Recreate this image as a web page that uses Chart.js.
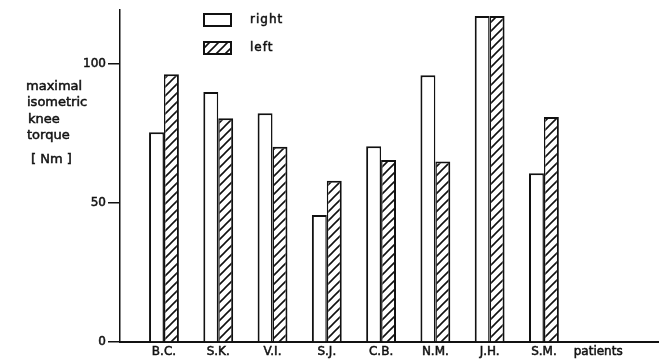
<!DOCTYPE html>
<html>
<head>
<meta charset="utf-8">
<script src="https://cdn.jsdelivr.net/npm/chart.js@4.4.1/dist/chart.umd.min.js"></script>
<style>
  html, body { margin: 0; padding: 0; background: #fff; }
  #wrap { width: 659px; height: 364px; }
</style>
</head>
<body>
<div id="wrap"><canvas id="c" width="659" height="364"></canvas></div>
<script>
// Patients and their maximal isometric knee torque (Nm)
const categories = ['B.C.', 'S.K.', 'V.I.', 'S.J.', 'C.B.', 'N.M.', 'J.H.', 'S.M.'];
const rightValues = [75.5, 90, 82.3, 45.7, 70.5, 96, 117.3, 60.7];
const leftValues = [96.4, 80.5, 70.3, 58, 65.5, 65, 117.3, 81];
const yTicks = [0, 50, 100];
const xAxisLabel = 'patients';
const seriesNames = ['right', 'left'];
const yTitleLines = ['maximal', 'isometric', 'knee', 'torque', '[ Nm ]'];

const INK = '#111';
const FONT = 'DejaVu Sans';

// Diagonal "/" hatching used for the left-leg bars
function makeHatch() {
  const s = 9;
  const p = document.createElement('canvas');
  p.width = s; p.height = s;
  const g = p.getContext('2d');
  g.fillStyle = '#fff';
  g.fillRect(0, 0, s, s);
  g.strokeStyle = INK;
  g.lineWidth = 1.6;
  g.beginPath();
  g.moveTo(-1, s + 1); g.lineTo(s + 1, -1);
  g.moveTo(-2, 2); g.lineTo(2, -2);
  g.moveTo(s - 2, s + 2); g.lineTo(s + 2, s - 2);
  g.stroke();
  return g.createPattern(p, 'repeat');
}
const hatch = makeHatch();

const toPoints = vals => vals.map((v, i) => ({ x: i, y: v }));

// Slightly heavier text, like the rest of the drawing's lettering
function inkText(ctx, text, x, y) {
  ctx.lineWidth = 0.5;
  ctx.strokeStyle = INK;
  ctx.strokeText(text, x, y);
  ctx.fillText(text, x, y);
}

// Legend box pair in the upper plot area
const legendPlugin = {
  id: 'boxLegend',
  afterDraw(chart) {
    const ctx = chart.ctx;
    ctx.save();
    const items = [
      { fill: '#fff', label: seriesNames[0], y: 13 },
      { fill: hatch, label: seriesNames[1], y: 41 }
    ];
    items.forEach(it => {
      ctx.fillStyle = it.fill;
      ctx.fillRect(203, it.y, 29, 14);
      ctx.strokeStyle = INK;
      ctx.lineWidth = 2;
      ctx.strokeRect(204, it.y + 1, 27, 12);
      ctx.fillStyle = INK;
      ctx.font = '12px "' + FONT + '"';
      ctx.textBaseline = 'middle';
      ctx.textAlign = 'left';
      ctx.letterSpacing = '1px';
      inkText(ctx, it.label, 250, it.y + 7);
    });
    ctx.restore();
  }
};

// Horizontal, stacked y-axis title on the left
const yTitlePlugin = {
  id: 'yTitle',
  afterDraw(chart) {
    const ctx = chart.ctx;
    ctx.save();
    ctx.fillStyle = INK;
    ctx.font = '13px "' + FONT + '"';
    ctx.textBaseline = 'middle';
    ctx.textAlign = 'left';
    const xs = [26, 27, 28, 27, 31];
    const ys = [87, 103, 120, 136, 160];
    yTitleLines.forEach((t, i) => inkText(ctx, t, xs[i], ys[i]));
    ctx.restore();
  }
};

new Chart(document.getElementById('c'), {
  type: 'bar',
  data: {
    datasets: [
      {
        label: seriesNames[0],
        data: toPoints(rightValues),
        backgroundColor: '#fff',
        borderColor: INK,
        borderWidth: { top: 2, left: 2, right: 1.5, bottom: 0 },
        borderSkipped: false
      },
      {
        label: seriesNames[1],
        data: toPoints(leftValues),
        backgroundColor: hatch,
        borderColor: INK,
        borderWidth: { top: 2, left: 1.5, right: 2, bottom: 0 },
        borderSkipped: false
      }
    ]
  },
  options: {
    responsive: false,
    animation: false,
    devicePixelRatio: 1,
    categoryPercentage: 0.55,
    barPercentage: 1,
    layout: { padding: { top: 10, left: 0, right: 0, bottom: 0 } },
    plugins: {
      legend: { display: false },
      tooltip: { enabled: false }
    },
    scales: {
      x: {
        type: 'linear',
        min: -0.81,
        max: 9.12,
        offset: false,
        grid: { display: false, drawTicks: false, offset: false },
        border: { display: true, color: INK, width: 2 },
        afterBuildTicks(scale) {
          scale.ticks = categories.map((c, i) => ({ value: i }))
            .concat([{ value: categories.length }]);
        },
        afterFit(scale) { scale.height = 22; },
        ticks: {
          autoSkip: false,
          maxRotation: 0,
          padding: 3,
          color: INK,
          textStrokeColor: INK,
          textStrokeWidth: 0.5,
          font: { family: FONT, size: 12 },
          callback(v) {
            if (v < categories.length) return categories[v];
            if (v === categories.length) return xAxisLabel;
            return '';
          }
        }
      },
      y: {
        type: 'linear',
        min: 0,
        max: 119.5,
        afterBuildTicks(scale) {
          scale.ticks = yTicks.map(v => ({ value: v }));
        },
        afterFit(scale) { scale.width = 120; },
        grid: {
          display: true,
          drawOnChartArea: false,
          drawTicks: true,
          tickLength: 12,
          color: INK,
          lineWidth: 1.5
        },
        border: { display: true, color: INK, width: 1.5 },
        ticks: {
          padding: 2,
          color: INK,
          textStrokeColor: INK,
          textStrokeWidth: 0.5,
          font: { family: FONT, size: 12 }
        }
      }
    }
  },
  plugins: [legendPlugin, yTitlePlugin]
});
</script>
</body>
</html>
